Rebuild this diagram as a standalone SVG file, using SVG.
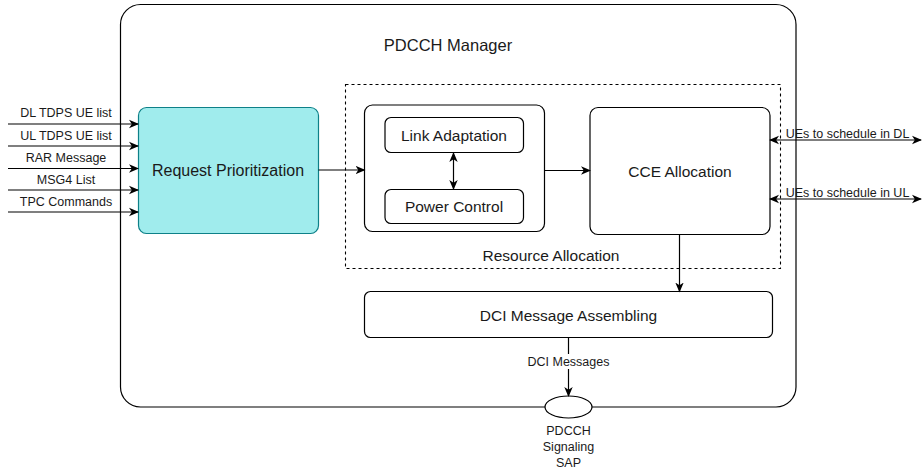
<svg xmlns="http://www.w3.org/2000/svg" width="922" height="475" viewBox="0 0 922 475">
<style>
.box{fill:#fff;stroke:#000;stroke-width:1.2}
.ln{fill:none;stroke:#000;stroke-width:1.2}
.t{font-family:"Liberation Sans",Arial,sans-serif;fill:#1a1a1a;text-anchor:middle}
.big{font-size:15.5px}
.sm{font-size:12.5px}
</style>
<defs>
<marker id="ah" viewBox="0 0 10 10" refX="9" refY="5" markerWidth="10" markerHeight="10" markerUnits="userSpaceOnUse" orient="auto-start-reverse">
<path d="M0,0.8 L10,5 L0,9.2 L2.8,5 Z" fill="#000"/>
</marker>
</defs>
<g id="pdcch-manager">
<rect class="box" x="120.5" y="4.5" width="675.5" height="402.5" rx="20"/>
<text class="t" x="448" y="51" font-size="16.5">PDCCH Manager</text>
</g>
<g id="resource-allocation">
<rect x="345.5" y="84.5" width="435" height="184" fill="none" stroke="#000" stroke-width="1.1" stroke-dasharray="3,3"/>
<text class="t big" x="551" y="260.5">Resource Allocation</text>
</g>
<g id="request-prioritization">
<rect x="138.5" y="107.5" width="180" height="126" rx="8" fill="#a0eced" stroke="#0e8088" stroke-width="1.2"/>
<text class="t" x="228" y="175.5" font-size="16">Request Prioritization</text>
</g>
<g id="la-pc-container">
<rect class="box" x="364.5" y="105" width="180" height="126.5" rx="8"/>
</g>
<g id="link-adaptation">
<rect class="box" x="385" y="117.5" width="138.5" height="35" rx="6"/>
<text class="t big" x="454" y="140.5">Link Adaptation</text>
</g>
<g id="power-control">
<rect class="box" x="385" y="189.5" width="138.5" height="34" rx="6"/>
<text class="t big" x="454" y="211.5">Power Control</text>
</g>
<g id="cce-allocation">
<rect class="box" x="590" y="107.5" width="180" height="127" rx="8"/>
<text class="t big" x="680" y="177">CCE Allocation</text>
</g>
<g id="dci-assembling">
<rect class="box" x="364.5" y="291.5" width="408" height="46" rx="6"/>
<text class="t big" x="568.5" y="320.5">DCI Message Assembling</text>
</g>
<g id="sap">
<ellipse cx="568.5" cy="407" rx="23.5" ry="11" fill="#fff" stroke="#000" stroke-width="1.2"/>
<text class="t sm" x="568.5" y="435">PDCCH</text>
<text class="t sm" x="568.5" y="451">Signaling</text>
<text class="t sm" x="568.5" y="467">SAP</text>
</g>
<g id="connectors">
<line class="ln" x1="8" y1="124" x2="138" y2="124" marker-end="url(#ah)"/>
<line class="ln" x1="8" y1="146" x2="138" y2="146" marker-end="url(#ah)"/>
<line class="ln" x1="8" y1="168.5" x2="138" y2="168.5" marker-end="url(#ah)"/>
<line class="ln" x1="8" y1="190" x2="138" y2="190" marker-end="url(#ah)"/>
<line class="ln" x1="8" y1="212" x2="138" y2="212" marker-end="url(#ah)"/>
<text class="t sm" x="66" y="117">DL TDPS UE list</text>
<text class="t sm" x="66" y="139.5">UL TDPS UE list</text>
<text class="t sm" x="66" y="162">RAR Message</text>
<text class="t sm" x="66" y="184">MSG4 List</text>
<text class="t sm" x="66" y="205.5">TPC Commands</text>
<line class="ln" x1="318.5" y1="170" x2="364.5" y2="170" marker-end="url(#ah)"/>
<line class="ln" x1="453.5" y1="153" x2="453.5" y2="189" marker-start="url(#ah)" marker-end="url(#ah)"/>
<line class="ln" x1="544.5" y1="170.5" x2="590" y2="170.5" marker-end="url(#ah)"/>
<line class="ln" x1="770" y1="140" x2="921" y2="140" marker-start="url(#ah)" marker-end="url(#ah)"/>
<line class="ln" x1="770" y1="199" x2="921" y2="199" marker-start="url(#ah)" marker-end="url(#ah)"/>
<text class="t sm" x="847.5" y="138">UEs to schedule in DL</text>
<text class="t sm" x="847.5" y="197">UEs to schedule in UL</text>
<line class="ln" x1="679.5" y1="234.5" x2="679.5" y2="291.5" marker-end="url(#ah)"/>
<line class="ln" x1="568.5" y1="337.5" x2="568.5" y2="396" marker-end="url(#ah)"/>
<rect x="527" y="354" width="83" height="15" fill="#fff"/>
<text class="t sm" x="568.5" y="366">DCI Messages</text>
</g>
</svg>
